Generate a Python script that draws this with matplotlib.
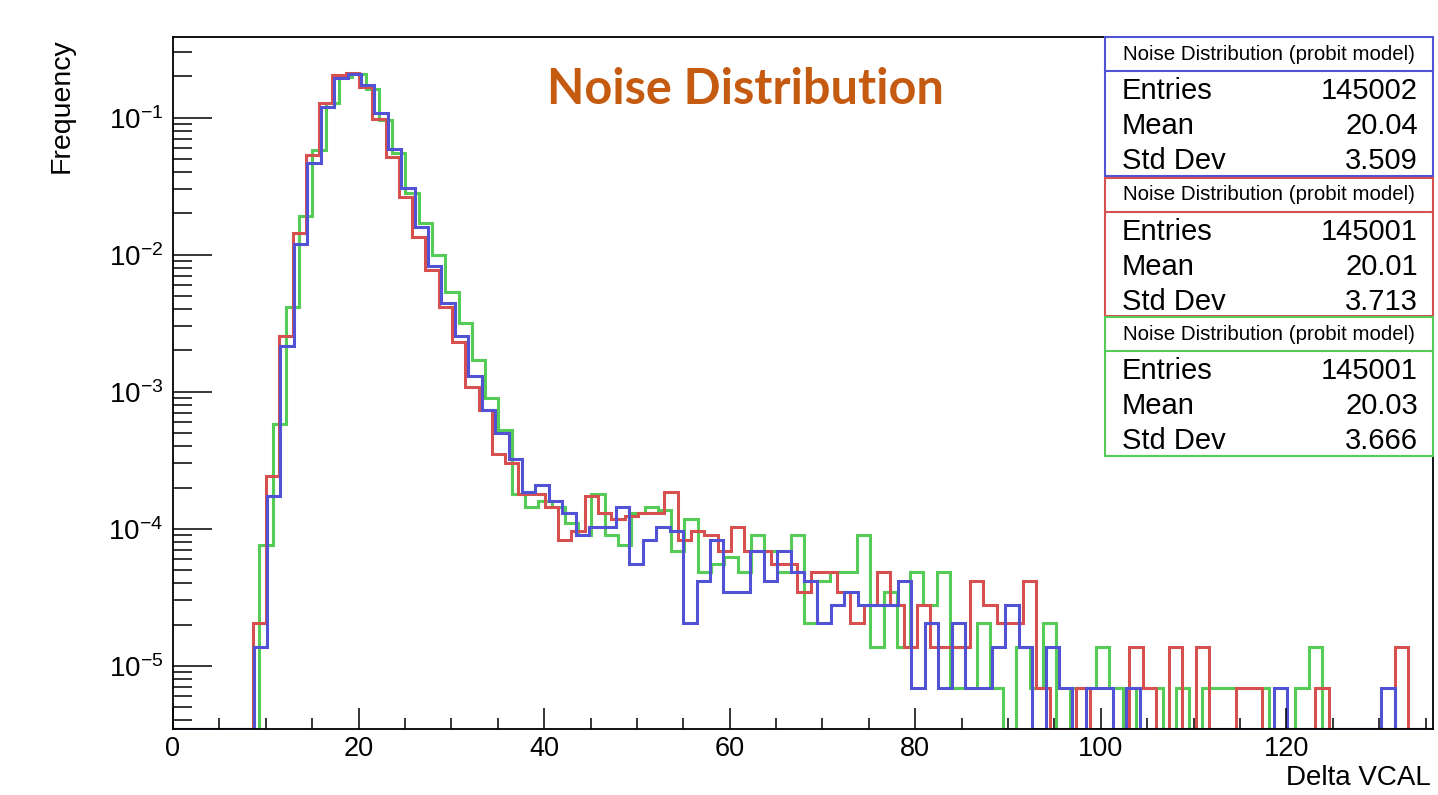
import numpy as np
import matplotlib
matplotlib.use("Agg")
import matplotlib.pyplot as plt
from matplotlib.patches import Rectangle
from matplotlib.ticker import LogLocator, MultipleLocator, NullFormatter

plt.rcParams['font.family'] = ['Liberation Sans', 'DejaVu Sans']
plt.rcParams['mathtext.fontset'] = 'custom'
plt.rcParams['mathtext.rm'] = 'Liberation Sans'
plt.rcParams['mathtext.it'] = 'Liberation Sans:italic'
plt.rcParams['mathtext.bf'] = 'Liberation Sans:bold'

# Counts per bin (frequency = counts / entries)
# blue: 94 bins over [0, 136]
blue_counts = [0, 0, 0, 0, 0, 0, 2, 25, 315, 1740,
               6815, 17400, 28130, 30160, 25085, 15660, 8526, 4466, 2320, 1204,
               648, 370, 189, 107, 72, 47, 27, 30, 23, 19,
               13, 15, 15, 21, 8, 12, 15, 14, 3, 6,
               12, 5, 5, 10, 6, 10, 7, 6, 3, 4,
               5, 4, 4, 4, 6, 1, 3, 1, 3, 1,
               1, 2, 4, 2, 0, 2, 1, 0, 1, 1,
               0, 1, 0, 0, 0, 0, 0, 0, 0, 0,
               0, 0, 1, 0, 0, 0, 0, 0, 0, 0,
               1, 0, 0, 0]
# red: 95 bins over [0, 136]
red_counts = [0, 0, 0, 0, 0, 0, 3, 35, 370, 2078,
              7750, 18640, 29730, 30900, 24170, 14110, 7530, 3845, 1961, 1121,
              605, 336, 158, 107, 51, 44, 26, 26, 21, 12,
              14, 25, 19, 17, 18, 19, 19, 27, 12, 14,
              13, 10, 15, 10, 10, 8, 8, 5, 7, 7,
              5, 3, 4, 7, 4, 2, 4, 2, 2, 2,
              6, 4, 3, 3, 6, 1, 0, 0, 1, 0,
              0, 0, 2, 1, 0, 2, 0, 2, 0, 0,
              1, 1, 0, 0, 0, 0, 1, 0, 0, 0,
              0, 0, 2, 0, 0]
# green: 95 bins, shifted by half a bin
green_counts = [0, 0, 0, 0, 0, 0, 0, 11, 85, 605,
                2770, 8410, 18415, 28930, 30160, 23345, 13950, 7975, 4118, 2480,
                1444, 779, 458, 247, 130, 76, 26, 21, 23, 21,
                16, 13, 26, 13, 11, 19, 21, 20, 10, 17,
                7, 8, 9, 7, 13, 10, 7, 13, 3, 6,
                7, 7, 13, 2, 5, 2, 7, 4, 7, 1,
                1, 3, 1, 0, 2, 1, 3, 0, 1, 1,
                2, 1, 0, 1, 1, 0, 1, 0, 1, 1,
                1, 1, 1, 0, 0, 1, 2, 0, 0, 0,
                0, 0, 0, 0, 0]

x_max = 136.0
entries = [145002, 145001, 145001]
means = ["20.04", "20.01", "20.03"]
std_devs = ["3.509", "3.713", "3.666"]

c_blue = '#5252d4'
c_red = '#d65050'
c_green = '#55cc55'

y_min, y_max = 3.44e-6, 0.386

W, H = 1438, 795
PT = 0.72  # points per pixel at dpi 100
fig = plt.figure(figsize=(W / 100, H / 100), dpi=100)
ax = fig.add_axes([173 / W, 1 - 729.3 / H, (1433 - 173) / W, (729.3 - 37.3) / H])

w94 = x_max / 94
w95 = x_max / 95
edges_blue = np.arange(95) * w94
edges_red = np.arange(96) * w95
edges_green = (np.arange(96) - 0.5) * w95

series = [
    (green_counts, edges_green, entries[2], c_green),
    (red_counts, edges_red, entries[1], c_red),
    (blue_counts, edges_blue, entries[0], c_blue),
]
for counts, edges, n, col in series:
    freq = np.array(counts, dtype=float) / n
    # empty bins are drawn on the bottom of the frame, as ROOT does
    freq = np.where(freq > 0, freq, y_min)
    ax.stairs(freq, edges, baseline=None, color=col, lw=2.2)

ax.set_yscale('log')
ax.set_xlim(0, 135.8)
ax.set_ylim(y_min, y_max)

ax.xaxis.set_major_locator(MultipleLocator(20))
ax.xaxis.set_minor_locator(MultipleLocator(5))
ax.yaxis.set_major_locator(LogLocator(base=10, numticks=20))
ax.yaxis.set_minor_locator(LogLocator(base=10, subs=np.arange(2, 10), numticks=20))
ax.yaxis.set_minor_formatter(NullFormatter())

ax.tick_params(axis='x', which='major', direction='in', length=21 * PT, width=1.1,
               labelsize=19.5, pad=5, top=False)
ax.tick_params(axis='x', which='minor', direction='in', length=11 * PT, width=1.1, top=False)
ax.tick_params(axis='y', which='major', direction='in', length=39 * PT, width=1.1,
               labelsize=20, pad=7, right=False)
ax.tick_params(axis='y', which='minor', direction='in', length=19 * PT, width=1.1, right=False)
for s in ax.spines.values():
    s.set_linewidth(1.3)

fig.text(62 / W, 1 - 38 / H, 'Frequency', rotation=90, ha='center', va='top', fontsize=20.5)
fig.text(1431 / W, 1 - 778 / H, 'Delta VCAL', ha='right', va='center', fontsize=20)

fig.text(745 / W, 1 - 89 / H, 'Noise Distribution', ha='center', va='center',
         fontsize=35, fontweight='bold', color='#c55a11', family=['Lato', 'DejaVu Sans'])

# stats boxes
box_x0, box_x1 = 1105, 1433
box_tops = [37.3, 177.7, 317.3]
box_h = 138.5
title_h = 34
box_cols = [c_blue, c_red, c_green]
for i in range(3):
    top = box_tops[i]
    col = box_cols[i]
    fig.add_artist(Rectangle((box_x0 / W, 1 - (top + box_h) / H), (box_x1 - box_x0) / W,
                             box_h / H, transform=fig.transFigure, facecolor='white',
                             edgecolor=col, lw=1.5, zorder=5))
    fig.add_artist(plt.Line2D([box_x0 / W, box_x1 / W], [1 - (top + title_h) / H] * 2,
                              transform=fig.transFigure, color=col, lw=1.5, zorder=6))
    fig.text((box_x0 + box_x1) / 2 / W, 1 - (top + title_h / 2) / H,
             'Noise Distribution (probit model)', ha='center', va='center',
             fontsize=14.8, zorder=7)
    rows = [('Entries', str(entries[i])), ('Mean', means[i]), ('Std Dev', std_devs[i])]
    for r, (name, val) in enumerate(rows):
        yy = 1 - (top + 54 + 35 * r) / H
        fig.text(1122 / W, yy, name, ha='left', va='center', fontsize=21, zorder=7)
        fig.text(1418 / W, yy, val, ha='right', va='center', fontsize=21, zorder=7)

fig.savefig('out.png', dpi=100)
